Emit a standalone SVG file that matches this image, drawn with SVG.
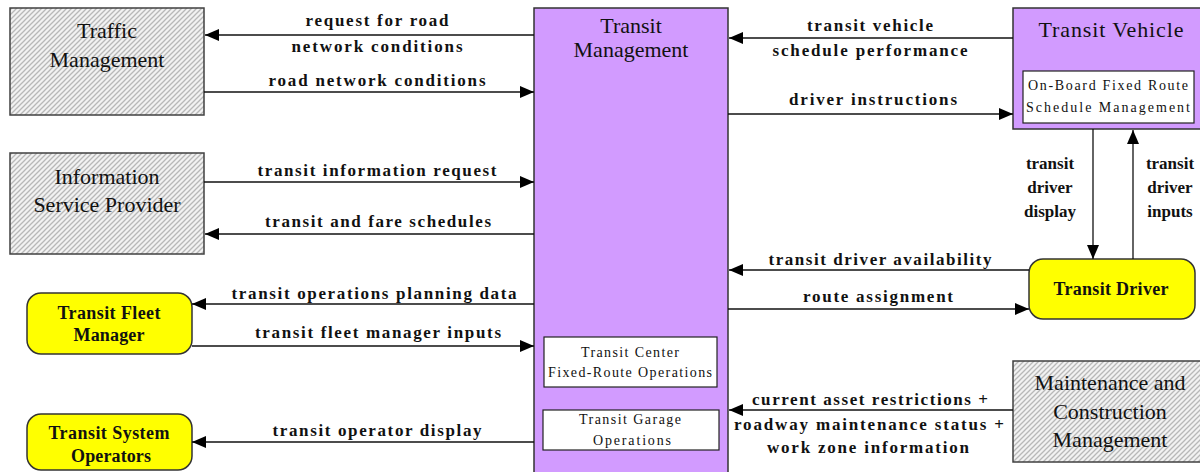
<svg xmlns="http://www.w3.org/2000/svg" width="1200" height="472" viewBox="0 0 1200 472">
<style>
.hatch{fill:url(#hp);stroke:#404040;stroke-width:1.5}
.purple{fill:#d29bff;stroke:#333;stroke-width:1.5}
.yellow{fill:#ffff00;stroke:#333;stroke-width:1.5}
.inner{fill:#fff;stroke:#222;stroke-width:1.2}
.name{font-family:"Liberation Serif","Times New Roman",serif;font-size:22px;fill:#111;text-anchor:middle}
.sub{font-family:"Liberation Serif","Times New Roman",serif;font-size:14px;fill:#111;text-anchor:middle}
.yl{font-family:"Liberation Serif","Times New Roman",serif;font-size:18px;font-weight:bold;fill:#111;text-anchor:middle}
.lbl{font-family:"Liberation Serif","Times New Roman",serif;font-size:17px;font-weight:bold;fill:#111;text-anchor:middle}
.flow{stroke:#111;stroke-width:1.3;fill:none;marker-end:url(#ah)}
</style>
<defs>
<pattern id="hp" patternUnits="userSpaceOnUse" width="5" height="5">
<rect width="5" height="5" fill="#f2f2f2"/>
<path d="M-1,1 L1,-1 M0,5 L5,0 M4,6 L6,4" stroke="#b8b8b8" stroke-width="1.3"/>
</pattern>
<marker id="ah" markerUnits="userSpaceOnUse" markerWidth="14" markerHeight="12" refX="14" refY="6" orient="auto">
<path d="M0,0 L14,6 L0,12 Z" fill="#000"/>
</marker>
</defs>

<g id="traffic-management">
<rect class="hatch" x="10" y="8" width="194" height="107"/>
<text class="name" x="107" y="38">Traffic</text>
<text class="name" x="107" y="67">Management</text>
</g>

<g id="information-service-provider">
<rect class="hatch" x="10" y="153" width="194" height="101"/>
<text class="name" x="107" y="184">Information</text>
<text class="name" x="107" y="212">Service Provider</text>
</g>

<g id="transit-fleet-manager">
<rect class="yellow" x="27" y="293" width="165" height="61" rx="14"/>
<text class="yl" x="109" y="319" textLength="103" lengthAdjust="spacing">Transit Fleet</text>
<text class="yl" x="109" y="341" textLength="71" lengthAdjust="spacing">Manager</text>
</g>

<g id="transit-system-operators">
<rect class="yellow" x="27" y="414" width="165" height="56" rx="14"/>
<text class="yl" x="109" y="439" textLength="121" lengthAdjust="spacing">Transit System</text>
<text class="yl" x="111" y="462" textLength="80" lengthAdjust="spacing">Operators</text>
</g>

<g id="transit-management">
<rect class="purple" x="534" y="8" width="194" height="470"/>
<text class="name" x="631" y="33">Transit</text>
<text class="name" x="631" y="57">Management</text>
<rect class="inner" x="544" y="337" width="173" height="50"/>
<text class="sub" x="630" y="357" textLength="98" lengthAdjust="spacing">Transit Center</text>
<text class="sub" x="630" y="377" textLength="164" lengthAdjust="spacing">Fixed-Route Operations</text>
<rect class="inner" x="543" y="410" width="176" height="40"/>
<text class="sub" x="630" y="424" textLength="102" lengthAdjust="spacing">Transit Garage</text>
<text class="sub" x="632" y="445" textLength="78" lengthAdjust="spacing">Operations</text>
</g>

<g id="transit-vehicle">
<rect class="purple" x="1013" y="8" width="190" height="121"/>
<text class="name" x="1111" y="37" textLength="145" lengthAdjust="spacing">Transit Vehicle</text>
<rect class="inner" x="1023" y="71" width="171" height="52"/>
<text class="sub" x="1108" y="90" textLength="160" lengthAdjust="spacing">On-Board Fixed Route</text>
<text class="sub" x="1108" y="112" textLength="164" lengthAdjust="spacing">Schedule Management</text>
</g>

<g id="transit-driver">
<rect class="yellow" x="1029" y="259" width="166" height="60" rx="14"/>
<text class="yl" x="1111" y="295" textLength="115" lengthAdjust="spacing">Transit Driver</text>
</g>

<g id="maintenance-construction-management">
<rect class="hatch" x="1013" y="361" width="192" height="101"/>
<text class="name" x="1110" y="390">Maintenance and</text>
<text class="name" x="1110" y="419">Construction</text>
<text class="name" x="1110" y="447">Management</text>
</g>

<g id="connectors">
<line class="flow" x1="534" y1="35" x2="205" y2="35"/>
<line class="flow" x1="204" y1="92" x2="534" y2="92"/>
<line class="flow" x1="204" y1="182" x2="534" y2="182"/>
<line class="flow" x1="534" y1="234" x2="205" y2="234"/>
<line class="flow" x1="534" y1="304" x2="192" y2="304"/>
<line class="flow" x1="192" y1="346" x2="534" y2="346"/>
<line class="flow" x1="534" y1="442" x2="192" y2="442"/>
<line class="flow" x1="1013" y1="38" x2="729" y2="38"/>
<line class="flow" x1="728" y1="114" x2="1013" y2="114"/>
<line class="flow" x1="1093" y1="129" x2="1093" y2="259"/>
<line class="flow" x1="1133" y1="259" x2="1133" y2="130"/>
<line class="flow" x1="1029" y1="270" x2="729" y2="270"/>
<line class="flow" x1="728" y1="309" x2="1029" y2="309"/>
<line class="flow" x1="1013" y1="410" x2="729" y2="410"/>

<text class="lbl" x="377" y="26" textLength="143" lengthAdjust="spacing">request for road</text>
<text class="lbl" x="377" y="52" textLength="171" lengthAdjust="spacing">network conditions</text>
<text class="lbl" x="377" y="86" textLength="217" lengthAdjust="spacing">road network conditions</text>
<text class="lbl" x="377" y="176" textLength="239" lengthAdjust="spacing">transit information request</text>
<text class="lbl" x="378" y="227" textLength="226" lengthAdjust="spacing">transit and fare schedules</text>
<text class="lbl" x="374" y="299" textLength="285" lengthAdjust="spacing">transit operations planning data</text>
<text class="lbl" x="378" y="338" textLength="246" lengthAdjust="spacing">transit fleet manager inputs</text>
<text class="lbl" x="377" y="436" textLength="209" lengthAdjust="spacing">transit operator display</text>

<text class="lbl" x="870" y="31" textLength="126" lengthAdjust="spacing">transit vehicle</text>
<text class="lbl" x="870" y="56" textLength="195" lengthAdjust="spacing">schedule performance</text>
<text class="lbl" x="873" y="105" textLength="168" lengthAdjust="spacing">driver instructions</text>
<text class="lbl" x="880" y="265" textLength="223" lengthAdjust="spacing">transit driver availability</text>
<text class="lbl" x="878" y="302" textLength="150" lengthAdjust="spacing">route assignment</text>
<text class="lbl" x="870" y="405" textLength="236" lengthAdjust="spacing">current asset restrictions +</text>
<text class="lbl" x="869" y="430" textLength="270" lengthAdjust="spacing">roadway maintenance status +</text>
<text class="lbl" x="868" y="453" textLength="202" lengthAdjust="spacing">work zone information</text>

<text class="lbl" x="1050" y="169">transit</text>
<text class="lbl" x="1050" y="193">driver</text>
<text class="lbl" x="1050" y="217">display</text>
<text class="lbl" x="1170" y="169">transit</text>
<text class="lbl" x="1170" y="193">driver</text>
<text class="lbl" x="1170" y="217">inputs</text>
</g>
</svg>
